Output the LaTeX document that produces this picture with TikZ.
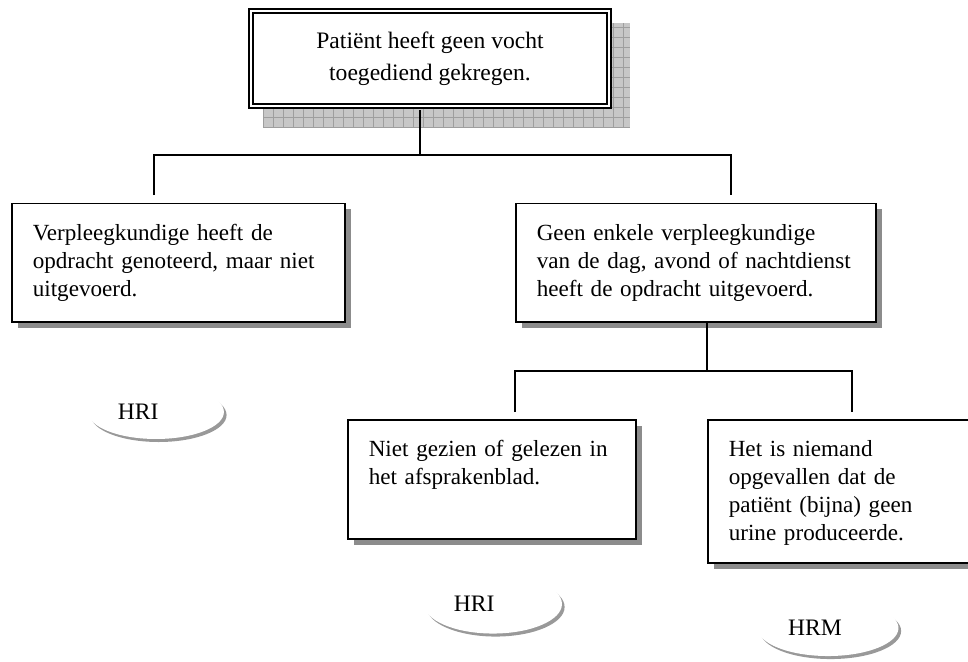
\documentclass[tikz,border=0pt]{standalone}
\usepackage{fontspec}
\setmainfont{Liberation Serif}
\usetikzlibrary{shapes.geometric,shadows}
\tikzset{
    causebox/.style = {draw, line width=0.9pt, fill=white,
                    anchor=north west, align=left,
                    inner xsep=11.1pt, inner ysep=0pt,
                    text height=19.6pt,
                    font=\fontsize{12.25}{14.8}\selectfont,
                    execute at begin node={\hyphenpenalty=10000\relax},
                    drop shadow={shadow xshift=3.2pt, shadow yshift=-3.2pt,
                                 fill=black!45, opacity=1}},
    topbox/.style   = {draw, line width=1.2pt, double=white, double distance=1.1pt,
                    fill=white, align=center,
                    minimum width=189.7pt, minimum height=50.4pt,
                    font=\fontsize{12.5}{17}\selectfont},
    hrshape/.style  = {ellipse, fill=white, inner sep=0pt,
                    drop shadow={shadow xshift=1.4pt, shadow yshift=-1.6pt,
                                 fill=black!40, opacity=1}},
    hrtext/.style   = {font=\fontsize{12.5}{15}\selectfont, inner sep=0pt},
    link/.style     = {line width=1.1pt},
    gridshadow/.style = {fill=black!22},
    gridline/.style = {draw=black!38, line width=0.4pt},
}

\begin{document}
\begin{tikzpicture}[x=0.53pt, y=-0.53pt]
    \clip (0,0) rectangle (968,661);

    % chequered shadow behind the top box
    \begin{scope}
        \clip (263,23) rectangle (630,127);
        \fill[gridshadow] (263,23) rectangle (630,127);
        \foreach \gx in {263,273,...,633} {
            \draw[gridline] (\gx,23) -- (\gx,127);
        }
        \foreach \gy in {27,37,...,127} {
            \draw[gridline] (263,\gy) -- (630,\gy);
        }
    \end{scope}

    % top event
    \node[topbox] (top) at (430,58.5) {Patiënt heeft geen vocht\\toegediend gekregen.};

    % first level
    \node[causebox, text width=154.3pt, text depth=43.4pt] (a) at (11,202.5)
        {Verpleegkundige heeft de\\opdracht genoteerd, maar niet\\uitgevoerd.};
    \node[causebox, text width=168.6pt, text depth=43.4pt] (b) at (515,202.5)
        {Geen enkele verpleegkundige\\van de dag, avond of nachtdienst\\heeft de opdracht uitgevoerd.};

    % second level
    \node[causebox, text width=130.4pt, text depth=43.4pt] (c) at (347,419)
        {Niet gezien of gelezen in\\het afsprakenblad.};
    \node[causebox, text width=136.8pt, text depth=56.2pt] (d) at (707,419)
        {Het is niemand\\opgevallen dat de\\patiënt (bijna) geen\\urine produceerde.};

    % connectors
    \coordinate (fork1) at (420,155);
    \coordinate (footA) at (154,195);
    \coordinate (footB) at (731,195);
    \draw[link, shorten <=1.7pt] (top.south -| fork1) -- (fork1);
    \draw[link] (footA) |- (fork1) -| (footB);

    \coordinate (fork2) at (707,371);
    \coordinate (footC) at (515,412);
    \coordinate (footD) at (852,412);
    \draw[link] (b.south -| fork2) -- (fork2);
    \draw[link] (footC) |- (fork2) -| (footD);

    % classification ellipses
    \node[hrshape, minimum width=72pt, minimum height=28.6pt] (hriA) at (156,412) {};
    \node[hrtext] (hriAtext) at ([xshift=-9.5pt]hriA.center) {HRI};
    \node[hrshape, minimum width=73.1pt, minimum height=31.3pt] (hriC) at (493,604) {};
    \node[hrtext] (hriCtext) at ([xshift=-10pt]hriC.center) {HRI};
    \node[hrshape, minimum width=74.7pt, minimum height=29.7pt] (hrmD) at (828,628) {};
    \node[hrtext] (hrmDtext) at ([xshift=-6.9pt]hrmD.center) {HRM};
\end{tikzpicture}
\end{document}
